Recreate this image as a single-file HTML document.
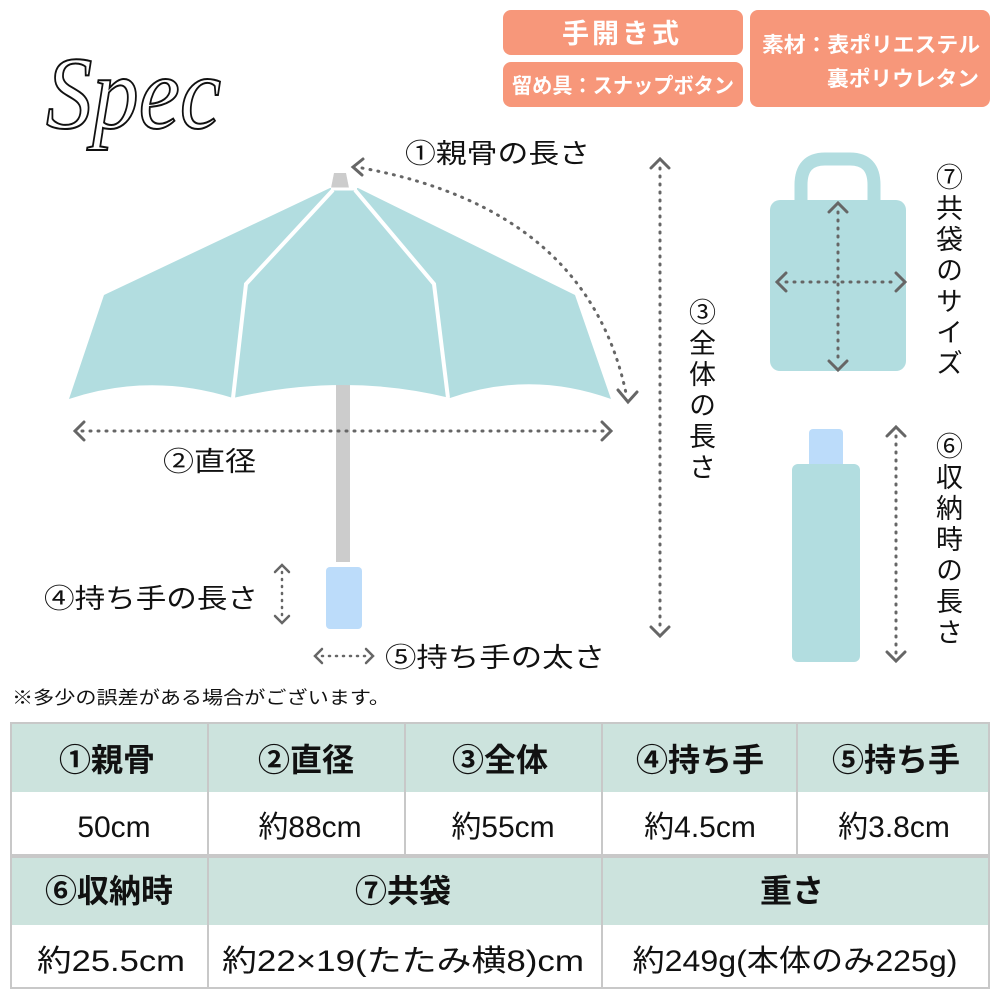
<!DOCTYPE html>
<html><head><meta charset="utf-8"><style>
html,body{margin:0;padding:0;background:#fff;width:1000px;height:1000px;overflow:hidden}
body{font-family:"Liberation Sans","Noto Sans CJK JP",sans-serif;}
</style></head><body>
<svg width="1000" height="1000" viewBox="0 0 1000 1000" xmlns="http://www.w3.org/2000/svg" style="position:absolute;left:0;top:0" font-family="'Liberation Sans','Noto Sans CJK JP',sans-serif">
<!-- Spec -->
<text x="46" y="128" font-family="'Liberation Serif',serif" font-style="italic" font-size="104" fill="none" stroke="#111" stroke-width="2" textLength="175" lengthAdjust="spacingAndGlyphs">Spec</text>

<!-- tags -->
<rect x="503" y="10" width="240" height="45" rx="8" fill="#f7977a"/>
<text x="622" y="43" font-size="27" fill="#fff" text-anchor="middle" font-weight="bold" letter-spacing="3">手開き式</text>
<rect x="503" y="62" width="240" height="45" rx="8" fill="#f7977a"/>
<text x="623" y="93" font-size="21" fill="#fff" text-anchor="middle" font-weight="bold" textLength="222" lengthAdjust="spacingAndGlyphs">留め具：スナップボタン</text>
<rect x="750" y="10" width="240" height="97" rx="8" fill="#f7977a"/>
<text x="762" y="52" font-size="21" fill="#fff" font-weight="bold" textLength="218" lengthAdjust="spacingAndGlyphs">素材：表ポリエステル</text>
<text x="827" y="86" font-size="21" fill="#fff" font-weight="bold" textLength="152" lengthAdjust="spacingAndGlyphs">裏ポリウレタン</text>

<!-- umbrella -->
<rect x="336" y="385" width="14" height="177" fill="#cccccc"/>
<rect x="326" y="567" width="36" height="62" rx="4" fill="#bcdcfa"/>
<path d="M334 173 L346 173 L349 188 L331 188 Z" fill="#cccccc"/>
<path d="M330 188 L358 188 L575 295 L611 399 Q530 370 450 398 Q345 372 233 398 Q150 372 69 399 L104 295 Z" fill="#b2dde0"/>
<path d="M333 190 L246 284 L233 398 M355 190 L434 284 L448 398" stroke="#fff" stroke-width="4" fill="none"/>
<line x1="331" y1="189" x2="357" y2="189" stroke="#fff" stroke-width="3"/>

<g stroke="#666" fill="none" stroke-linecap="round">
<path d="M362 168 Q590 210 627 398" stroke-width="3" stroke-dasharray="1 7"/>
<path d="M363 159 L353 167 L362 175" stroke-width="3"/>
<path d="M618 390 L628 402 L637 392" stroke-width="3"/>
<line x1="82" y1="431" x2="604" y2="431" stroke-width="3" stroke-dasharray="1 7"/>
<path d="M84 422 L75 431 L84 440 M602 422 L611 431 L602 440" stroke-width="3"/>
<line x1="660" y1="168" x2="660" y2="630" stroke-width="3" stroke-dasharray="1 7"/>
<path d="M651 168 L660 159 L669 168 M651 627 L660 636 L669 627" stroke-width="3"/>
<line x1="282" y1="572" x2="282" y2="616" stroke-width="2.5" stroke-dasharray="1 6"/>
<path d="M275 572 L282 565 L289 572 M275 616 L282 623 L289 616" stroke-width="2.5"/>
<line x1="322" y1="656" x2="366" y2="656" stroke-width="2.5" stroke-dasharray="1 6"/>
<path d="M322 649 L315 656 L322 663 M366 649 L373 656 L366 663" stroke-width="2.5"/>
</g>

<!-- labels -->
<text x="405" y="163" font-size="27" fill="#111" textLength="185" lengthAdjust="spacingAndGlyphs">①親骨の長さ</text>
<text x="163" y="471" font-size="27" fill="#111" textLength="93" lengthAdjust="spacingAndGlyphs">②直径</text>
<text x="44" y="608" font-size="27" fill="#111" textLength="214" lengthAdjust="spacingAndGlyphs">④持ち手の長さ</text>
<text x="385" y="667" font-size="27" fill="#111" textLength="220" lengthAdjust="spacingAndGlyphs">⑤持ち手の太さ</text>
<text x="700" y="298" font-size="27" fill="#111" style="writing-mode:vertical-rl" letter-spacing="4">③全体の長さ</text>

<!-- bag -->
<path d="M801 200 L801 185 Q801 159 825 159 L850 159 Q874 159 874 185 L874 200" fill="none" stroke="#b2dde0" stroke-width="13"/>
<rect x="770" y="200" width="136" height="171" rx="10" fill="#b2dde0"/>
<g stroke="#666" fill="none" stroke-linecap="round">
<line x1="838" y1="212" x2="838" y2="362" stroke-width="3" stroke-dasharray="1 7"/>
<path d="M829 212 L838 203 L847 212 M829 361 L838 370 L847 361" stroke-width="3"/>
<line x1="786" y1="282" x2="896" y2="282" stroke-width="3" stroke-dasharray="1 7"/>
<path d="M786 273 L777 282 L786 291 M896 273 L905 282 L896 291" stroke-width="3"/>
</g>
<text x="947" y="163" font-size="27" fill="#111" style="writing-mode:vertical-rl" letter-spacing="4">⑦共袋のサイズ</text>

<!-- folded umbrella -->
<rect x="809" y="429" width="34" height="40" rx="4" fill="#bcdcfa"/>
<rect x="792" y="464" width="68" height="198" rx="6" fill="#b2dde0"/>
<g stroke="#666" fill="none" stroke-linecap="round">
<line x1="896" y1="436" x2="896" y2="654" stroke-width="3" stroke-dasharray="1 7"/>
<path d="M887 436 L896 427 L905 436 M887 652 L896 661 L905 652" stroke-width="3"/>
</g>
<text x="947" y="432" font-size="27" fill="#111" style="writing-mode:vertical-rl" letter-spacing="4">⑥収納時の長さ</text>

<text x="12" y="704" font-size="18" fill="#111" textLength="378" lengthAdjust="spacingAndGlyphs">※多少の誤差がある場合がございます。</text>

<!-- table -->
<g>
<rect x="10" y="722" width="980" height="70" fill="#cce3dd"/>
<rect x="10" y="792" width="980" height="63" fill="#fff"/>
<rect x="10" y="857" width="980" height="68" fill="#cce3dd"/>
<rect x="10" y="925" width="980" height="63" fill="#fff"/>
<g stroke="#c8c8c8" stroke-width="2" fill="none">
<rect x="11" y="723" width="978" height="265"/>
<line x1="10" y1="856" x2="990" y2="856" stroke-width="4"/>
<line x1="208" y1="722" x2="208" y2="988"/>
<line x1="405" y1="722" x2="405" y2="855"/>
<line x1="602" y1="722" x2="602" y2="988"/>
<line x1="797" y1="722" x2="797" y2="855"/>
</g>
<g font-size="32" fill="#111" text-anchor="middle" font-weight="bold">
<text x="107" y="771">①親骨</text>
<text x="306" y="771">②直径</text>
<text x="500" y="771">③全体</text>
<text x="700" y="771">④持ち手</text>
<text x="896" y="771">⑤持ち手</text>
<text x="109" y="902">⑥収納時</text>
<text x="403" y="902">⑦共袋</text>
<text x="792" y="902">重さ</text>
</g>
<g font-size="30" fill="#111" text-anchor="middle">
<text x="114" y="837">50cm</text>
<text x="310" y="837">約88cm</text>
<text x="503" y="837">約55cm</text>
<text x="700" y="837">約4.5cm</text>
<text x="894" y="837">約3.8cm</text>
<text x="111" y="971" textLength="148" lengthAdjust="spacingAndGlyphs">約25.5cm</text>
<text x="403" y="971" textLength="362" lengthAdjust="spacingAndGlyphs">約22×19(たたみ横8)cm</text>
<text x="795" y="971" textLength="325" lengthAdjust="spacingAndGlyphs">約249g(本体のみ225g)</text>
</g>
</g>
</svg>
</body></html>
